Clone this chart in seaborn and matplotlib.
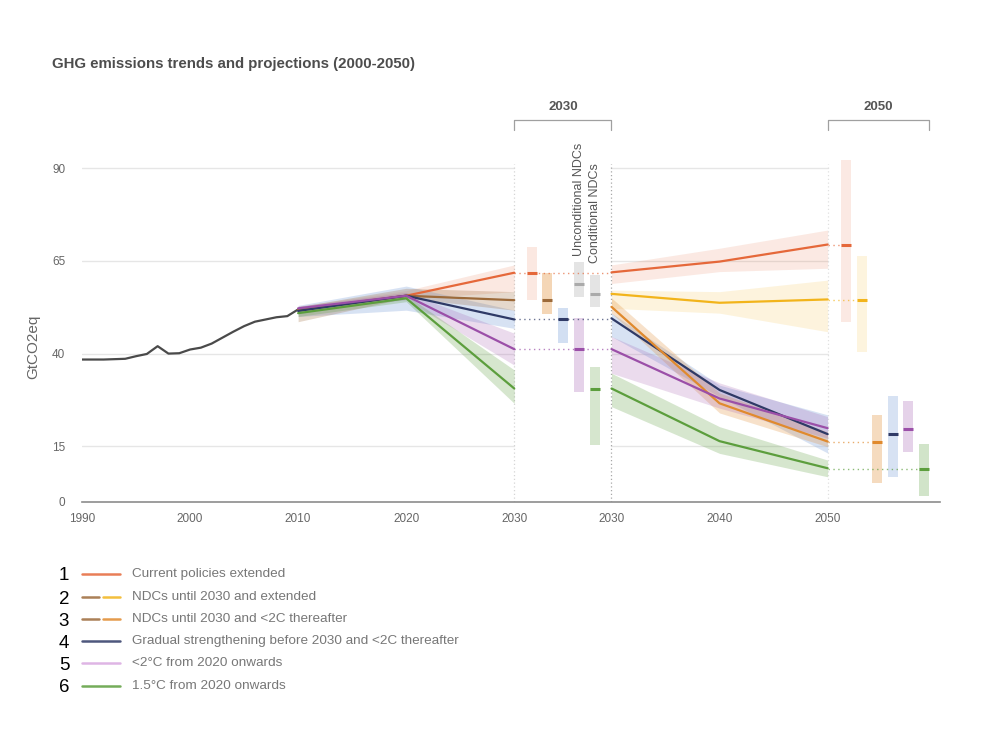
import matplotlib
matplotlib.use("Agg")
import matplotlib.pyplot as plt
import seaborn as sns
import pandas as pd

# ---------------- data ----------------
hist_years = list(range(1990, 2011))
hist_values = [38.4, 38.4, 38.4, 38.5, 38.6, 39.3, 39.9, 42.0, 40.0, 40.1, 41.1,
               41.6, 42.7, 44.3, 45.9, 47.4, 48.6, 49.2, 49.8, 50.1, 51.9]

years_a = [2010, 2020, 2030]
years_b = [2030, 2040, 2050]

# section 2010-2030
cp_a = [51.9, 55.6, 61.8];   cp_a_lo = [51.0, 54.8, 56.7];   cp_a_hi = [52.8, 57.0, 63.9]
ndc_a = [51.8, 55.6, 54.4];  ndc_a_lo = [48.6, 55.0, 51.7];  ndc_a_hi = [52.6, 57.6, 56.7]
grad_a = [51.5, 55.6, 49.2]; grad_a_lo = [50.0, 51.7, 46.8]; grad_a_hi = [53.0, 58.2, 51.7]
two_a = [52.2, 55.6, 41.2];  two_a_lo = [51.5, 54.5, 36.9];  two_a_hi = [52.8, 56.5, 45.5]
one5_a = [50.9, 54.9, 30.6]; one5_a_lo = [50.0, 54.0, 26.6]; one5_a_hi = [51.8, 55.8, 35.6]

# section 2030-2050
cp_b = [61.9, 64.8, 69.4];     cp_b_lo = [58.9, 62.1, 63.0];     cp_b_hi = [63.9, 68.4, 73.3]
ndcext_b = [56.1, 53.7, 54.6]; ndcext_b_lo = [52.2, 50.9, 45.9]; ndcext_b_hi = [57.1, 56.7, 59.8]
ndc2c_b = [52.6, 26.6, 16.3];  ndc2c_b_lo = [50.9, 24.0, 14.9];  ndc2c_b_hi = [55.0, 29.4, 18.9]
grad_b = [49.5, 30.2, 18.3];   grad_b_lo = [44.6, 28.4, 13.2];   grad_b_hi = [50.9, 31.5, 23.5]
two_b = [41.2, 27.9, 19.9];    two_b_lo = [34.7, 25.3, 17.2];    two_b_hi = [44.6, 32.1, 23.0]
one5_b = [30.6, 16.4, 9.1];    one5_b_lo = [25.7, 13.1, 6.8];    one5_b_hi = [34.7, 20.3, 11.3]

# 2030 ranges
box2030_names = ["Current policies", "NDCs", "Gradual", "Unconditional NDCs",
                 "<2C", "Conditional NDCs", "1.5C"]
box2030_slot = [0, 1, 2, 3, 3, 4, 4]
box2030_lo = [54.4, 50.7, 42.9, 55.3, 29.7, 52.6, 15.4]
box2030_hi = [68.8, 61.8, 52.3, 64.8, 49.5, 61.2, 36.5]
box2030_med = [61.6, 54.4, 49.3, 58.8, 41.2, 56.1, 30.4]

# 2050 ranges
box2050_names = ["Current policies", "NDCs extended", "NDCs <2C", "Gradual", "<2C", "1.5C"]
box2050_lo = [48.6, 40.5, 5.2, 6.8, 13.6, 1.6]
box2050_hi = [92.2, 66.4, 23.5, 28.6, 27.3, 15.6]
box2050_med = [69.4, 54.4, 16.2, 18.3, 19.7, 9.0]

yticks = [0, 15, 40, 65, 90]
xtick_years = [1990, 2000, 2010, 2020, 2030, 2030, 2040, 2050]

legend_labels = ["Current policies extended", "NDCs until 2030 and extended",
                 "NDCs until 2030 and <2C thereafter",
                 "Gradual strengthening before 2030 and <2C thereafter",
                 "<2°C from 2020 onwards", "1.5°C from 2020 onwards"]

# ---------------- style ----------------
C_CP = "#E5683A"
C_NDC = "#9C6A3A"
C_YEL = "#F2B41B"
C_ORA = "#E08A2E"
C_NAV = "#2F3A66"
C_PUR = "#9B4FA8"
C_GRN = "#5C9E3D"
C_HIST = "#4A4A4A"
C_BLUEBAND = "#9DB8E3"
C_GRAY = "#D9D9D9"

sns.set_theme(style="white")
FONT = ["Liberation Sans", "DejaVu Sans"]
plt.rcParams["font.family"] = FONT

# piecewise x scale: 1990-2030 | 2030 panel | 2030-2050 | 2050 panel
A0, B0 = 0.0, 49.0
P30_START, P50_START = 40.0, 69.0
XMAX = 79.4


def xa(y):
    return [v - 1990 + A0 for v in y] if isinstance(y, list) else y - 1990 + A0


def xb(y):
    return [v - 2030 + B0 for v in y] if isinstance(y, list) else y - 2030 + B0


fig = plt.figure(figsize=(10, 7.5), dpi=100)
ax = fig.add_axes([0.082, 1 - 502 / 750, (940 - 82) / 1000, 371 / 750])
ax.set_xlim(0, XMAX)
ax.set_ylim(0, 100)

# gridlines (segments)
for yv in yticks[1:]:
    ax.plot([A0, P30_START], [yv, yv], color="#E6E6E6", lw=1.0, zorder=0)
    ax.plot([B0, P50_START], [yv, yv], color="#E6E6E6", lw=1.0, zorder=0)

# vertical dotted separators
ax.plot([P30_START, P30_START], [0, 91], color="#D5D5D5", lw=0.9, ls=(0, (1, 2)), zorder=0)
ax.plot([B0, B0], [0, 91], color="#A8A8A8", lw=0.9, ls=(0, (1, 2)), zorder=0)
ax.plot([P50_START, P50_START], [0, 91], color="#E0E0E0", lw=0.9, ls=(0, (1, 2)), zorder=0)


def band(xs, lo, hi, color, alpha):
    ax.fill_between(xs, lo, hi, color=color, alpha=alpha, lw=0, zorder=1)


def line(xs, ys, color, lw=1.6, z=3):
    df = pd.DataFrame({"x": xs, "y": ys})
    sns.lineplot(data=df, x="x", y="y", color=color, linewidth=lw, ax=ax, zorder=z,
                 estimator=None, sort=False)


# section A bands
band(xa(years_a), cp_a_lo, cp_a_hi, C_CP, 0.15)
band(xa(years_a), grad_a_lo, grad_a_hi, C_BLUEBAND, 0.40)
band(xa(years_a), ndc_a_lo, ndc_a_hi, C_NDC, 0.26)
band(xa(years_a), two_a_lo, two_a_hi, C_PUR, 0.20)
band(xa(years_a), one5_a_lo, one5_a_hi, C_GRN, 0.25)

# section B bands
band(xb(years_b), cp_b_lo, cp_b_hi, C_CP, 0.14)
band(xb(years_b), ndcext_b_lo, ndcext_b_hi, C_YEL, 0.15)
band(xb(years_b), grad_b_lo, grad_b_hi, C_BLUEBAND, 0.40)
band(xb(years_b), ndc2c_b_lo, ndc2c_b_hi, C_ORA, 0.25)
band(xb(years_b), two_b_lo, two_b_hi, C_PUR, 0.20)
band(xb(years_b), one5_b_lo, one5_b_hi, C_GRN, 0.25)

# lines
line(xa(hist_years), hist_values, C_HIST)
line(xa(years_a), cp_a, C_CP)
line(xa(years_a), ndc_a, C_NDC)
line(xa(years_a), grad_a, C_NAV)
line(xa(years_a), two_a, C_PUR)
line(xa(years_a), one5_a, C_GRN)

line(xb(years_b), cp_b, C_CP)
line(xb(years_b), ndcext_b, C_YEL)
line(xb(years_b), grad_b, C_NAV)
line(xb(years_b), ndc2c_b, C_ORA)
line(xb(years_b), two_b, C_PUR)
line(xb(years_b), one5_b, C_GRN)

# 2030 panel boxes
p30_first, p30_step, bw = 41.6, 1.46, 0.92
box30_fill = [(C_CP, 0.15), (C_ORA, 0.35), (C_BLUEBAND, 0.45), (C_GRAY, 0.7),
              (C_PUR, 0.25), (C_GRAY, 0.7), (C_GRN, 0.25)]
box30_med = [C_CP, C_NDC, C_NAV, "#AAAAAA", C_PUR, "#AAAAAA", C_GRN]
box30_x = [p30_first + p30_step * s for s in box2030_slot]
for i in range(len(box2030_lo)):
    c, a = box30_fill[i]
    ax.bar(box30_x[i], box2030_hi[i] - box2030_lo[i], bottom=box2030_lo[i],
           width=bw, color=c, alpha=a, lw=0, zorder=1)
    ax.plot([box30_x[i] - bw / 2, box30_x[i] + bw / 2], [box2030_med[i]] * 2,
            color=box30_med[i], lw=2.2, zorder=3, solid_capstyle="butt")

# 2030 dotted connectors
for val, c in [(box2030_med[0], C_CP), (box2030_med[2], C_NAV), (box2030_med[4], C_PUR)]:
    ax.plot([P30_START, B0], [val, val], color=c, lw=1.0, ls=(0, (1, 2.5)), alpha=0.7, zorder=2)

# rotated labels
ax.text(box30_x[3], 66.3, "Unconditional NDCs", rotation=90, ha="center", va="bottom",
        fontsize=9, color="#555555")
ax.text(box30_x[5], 64.4, "Conditional NDCs", rotation=90, ha="center", va="bottom",
        fontsize=9, color="#555555")

# 2050 panel boxes
p50_first, p50_step = 70.7, 1.44
box50_fill = [(C_CP, 0.14), (C_YEL, 0.14), (C_ORA, 0.30), (C_BLUEBAND, 0.40),
              (C_PUR, 0.25), (C_GRN, 0.28)]
box50_med = [C_CP, C_YEL, C_ORA, C_NAV, C_PUR, C_GRN]
box50_x = [p50_first + p50_step * i for i in range(len(box2050_lo))]
for i in range(len(box2050_lo)):
    c, a = box50_fill[i]
    ax.bar(box50_x[i], box2050_hi[i] - box2050_lo[i], bottom=box2050_lo[i],
           width=bw, color=c, alpha=a, lw=0, zorder=1)
    ax.plot([box50_x[i] - bw / 2, box50_x[i] + bw / 2], [box2050_med[i]] * 2,
            color=box50_med[i], lw=2.2, zorder=3, solid_capstyle="butt")

# 2050 dotted connectors
for i in [0, 1, 2, 5]:
    ax.plot([P50_START, box50_x[i] + (bw / 2 if i == 5 else -bw / 2)],
            [box2050_med[i]] * 2, color=box50_med[i], lw=1.0, ls=(0, (1, 2.5)),
            alpha=0.7, zorder=2)

# headers with brackets
for x0, x1, lab in [(P30_START, B0, "2030"), (P50_START, 78.4, "2050")]:
    ax.plot([x0, x0, x1, x1], [100.3, 103.0, 103.0, 100.3], color="#A0A0A0", lw=0.9,
            clip_on=False)
    ax.text((x0 + x1) / 2, 106.5, lab, ha="center", va="center", fontsize=9.5,
            color="#555555", fontweight="bold")

# axes styling
sns.despine(ax=ax, left=True, top=True, right=True)
ax.spines["bottom"].set_color("#8C8C8C")
ax.spines["bottom"].set_linewidth(1.2)
ax.set_yticks(yticks)
ax.set_yticklabels([str(v) for v in yticks])
xt = [xa(y) for y in xtick_years[:5]] + [xb(y) for y in xtick_years[5:]]
ax.set_xticks(xt)
ax.set_xticklabels([str(y) for y in xtick_years])
ax.tick_params(axis="both", length=0, labelsize=8.5, colors="#666666")
ax.tick_params(axis="y", pad=12)
ax.tick_params(axis="x", pad=8)
ax.set_xlabel("")
ax.set_ylabel("")
ax.grid(False)

# overlay for title, y label, legend (pixel coordinates)
lax = fig.add_axes([0, 0, 1, 1])
lax.set_xlim(0, 1000)
lax.set_ylim(750, 0)
lax.axis("off")

lax.text(52, 64, "GHG emissions trends and projections (2000-2050)", ha="left",
         va="center", fontsize=10.8, color="#4D4D4D", fontweight="bold")
lax.text(33, 347, "GtCO2eq", rotation=90, ha="center", va="center", fontsize=11,
         color="#666666")

leg_y = [574, 597, 619, 641, 663, 686]
leg_cols = [[C_CP], [C_NDC, C_YEL], [C_NDC, C_ORA], [C_NAV], ["#D9A8E0"], [C_GRN]]
for i, lab in enumerate(legend_labels):
    yv = leg_y[i]
    lax.text(64, yv + 2, str(i + 1), ha="center", va="center", fontsize=13.5,
             color="black")
    cols = leg_cols[i]
    if len(cols) == 1:
        lax.plot([82, 120], [yv, yv], color=cols[0], lw=1.8, alpha=0.85)
    else:
        lax.plot([82, 99], [yv, yv], color=cols[0], lw=1.8, alpha=0.85)
        lax.plot([103, 120], [yv, yv], color=cols[1], lw=1.8, alpha=0.85)
    lax.text(132, yv, lab, ha="left", va="center", fontsize=9.7, color="#777777")

fig.savefig("out.png", dpi=100)
